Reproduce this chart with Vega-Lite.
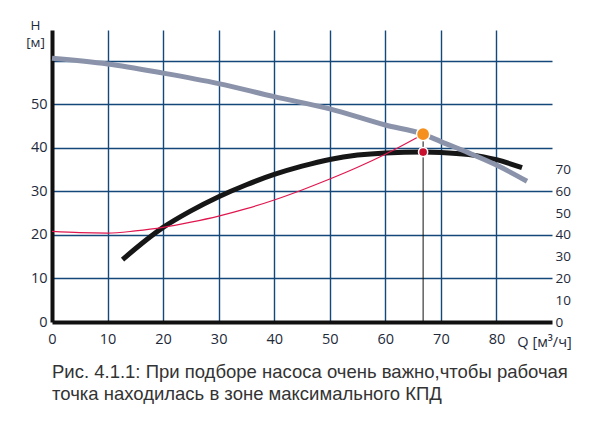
{
  "$schema": "https://vega.github.io/schema/vega-lite/v6.json",
  "width": 500,
  "height": 292,
  "autosize": {"type": "none"},
  "padding": {"left": 52, "top": 30, "right": 39, "bottom": 102},
  "background": "white",
  "title": {
    "text": ["Рис. 4.1.1: При подборе насоса очень важно,чтобы рабочая", "точка находилась в зоне максимального КПД"],
    "orient": "bottom",
    "anchor": "start",
    "frame": "group",
    "offset": 14,
    "font": "Liberation Sans",
    "fontSize": 18.5,
    "fontWeight": "normal",
    "lineHeight": 22,
    "color": "#333333"
  },
  "datasets": {
    "pump": [
      {"q": 0, "h": 60.5}, {"q": 10, "h": 59.2}, {"q": 20, "h": 57.1},
      {"q": 30, "h": 54.7}, {"q": 40, "h": 51.7}, {"q": 50, "h": 48.9},
      {"q": 60, "h": 45.2}, {"q": 66.8, "h": 43.1}, {"q": 70, "h": 41.4},
      {"q": 75, "h": 38.8}, {"q": 80, "h": 36}, {"q": 85.5, "h": 32.3}
    ],
    "system": [
      {"q": 0, "h": 20.8}, {"q": 5, "h": 20.5}, {"q": 10, "h": 20.4},
      {"q": 15, "h": 20.9}, {"q": 20, "h": 21.7}, {"q": 25, "h": 22.9},
      {"q": 30, "h": 24.3}, {"q": 35, "h": 26}, {"q": 40, "h": 28},
      {"q": 45, "h": 30.3}, {"q": 50, "h": 32.8}, {"q": 55, "h": 35.5},
      {"q": 60, "h": 38.5}, {"q": 66.8, "h": 43.1}
    ],
    "kpd": [
      {"q": 12.7, "e": 28.6}, {"q": 15, "e": 33.6}, {"q": 20, "e": 43.4},
      {"q": 25, "e": 51}, {"q": 30, "e": 57.5}, {"q": 35, "e": 63},
      {"q": 40, "e": 67.7}, {"q": 45, "e": 71.5}, {"q": 50, "e": 74.6},
      {"q": 55, "e": 76.6}, {"q": 60, "e": 77.6}, {"q": 66.8, "e": 78},
      {"q": 70, "e": 77.8}, {"q": 75, "e": 76.8}, {"q": 80, "e": 74.5},
      {"q": 84.6, "e": 70.8}
    ],
    "work": [
      {"q": 66.8, "h": 43.1, "h_kpd": 39, "h0": 0}
    ]
  },
  "layer": [
    {
      "data": {"name": "kpd"},
      "mark": {"type": "line", "color": "#161616", "strokeWidth": 5, "interpolate": "monotone"},
      "encoding": {
        "x": {
          "field": "q",
          "type": "quantitative",
          "scale": {"domain": [0, 90], "nice": false},
          "axis": {
            "values": [0, 10, 20, 30, 40, 50, 60, 70, 80, 90],
            "labelExpr": "datum.value == 90 ? 'Q  [м³/ч]' : datum.label",
            "labelOffset": {"condition": {"test": "datum.value == 90", "value": -8}, "value": 0},
            "labelPadding": {"condition": {"test": "datum.value == 90", "value": 13}, "value": 10},
            "labelOverlap": false,
            "labelFlush": false,
            "labelBound": false,
            "title": null,
            "ticks": false,
            "domainColor": "#111111",
            "domainWidth": 4,
            "grid": true,
            "gridColor": "#14477a",
            "gridWidth": 1.4,
            "gridOpacity": {"condition": {"test": "datum.value == 0 || datum.value == 90", "value": 0}, "value": 1},
            "labelFont": "Open Sans",
            "labelFontSize": 14.5,
            "labelFontWeight": 500,
            "labelColor": "#1e2a3a"
          }
        },
        "y": {
          "field": "e",
          "type": "quantitative",
          "scale": {"domain": [0, 134], "nice": false},
          "axis": {
            "orient": "right",
            "values": [0, 10, 20, 30, 40, 50, 60, 70],
            "labelOverlap": false,
            "title": null,
            "domain": false,
            "ticks": false,
            "grid": false,
            "labelFont": "Open Sans",
            "labelFontSize": 13.5,
            "labelFontWeight": 500,
            "labelColor": "#1e2a3a",
            "labelPadding": 3
          }
        }
      }
    },
    {
      "layer": [
        {
          "data": {"name": "system"},
          "mark": {"type": "line", "color": "#e0174f", "strokeWidth": 1.2, "interpolate": "monotone"},
          "encoding": {
            "x": {"field": "q", "type": "quantitative"},
            "y": {
              "field": "h",
              "type": "quantitative",
              "scale": {"domain": [0, 67], "nice": false},
              "axis": {
                "orient": "left",
                "values": [0, 5, 10, 15, 20, 25, 30, 35, 40, 45, 50, 55, 60, 65],
                "labelExpr": "datum.value % 10 == 0 && datum.value <= 50 ? datum.label : ''",
                "labelOverlap": false,
                "title": ["H", "[м]"],
                "titleAngle": 0,
                "titleX": -17,
                "titleY": -1,
                "titleAlign": "center",
                "titleBaseline": "alphabetic",
                "titleFont": "Open Sans",
                "titleFontSize": 13.5,
                "titleFontWeight": 500,
                "titleLineHeight": 17,
                "titleColor": "#1e2a3a",
                "ticks": false,
                "domainColor": "#111111",
                "domainWidth": 4,
                "grid": true,
                "gridColor": "#14477a",
                "gridWidth": 1.4,
                "gridOpacity": {"condition": {"test": "datum.value == 0", "value": 0}, "value": 1},
                "labelFont": "Open Sans",
                "labelFontSize": 14.5,
                "labelFontWeight": 500,
                "labelColor": "#1e2a3a",
                "labelPadding": 5
              }
            }
          }
        },
        {
          "data": {"name": "pump"},
          "mark": {"type": "line", "color": "#8b93aa", "strokeWidth": 5, "interpolate": "monotone"},
          "encoding": {
            "x": {"field": "q", "type": "quantitative"},
            "y": {"field": "h", "type": "quantitative"}
          }
        },
        {
          "data": {"name": "work"},
          "mark": {"type": "rule", "color": "#111111", "strokeWidth": 1},
          "encoding": {
            "x": {"field": "q", "type": "quantitative"},
            "y": {"field": "h", "type": "quantitative"},
            "y2": {"field": "h0"}
          }
        },
        {
          "data": {"name": "work"},
          "mark": {"type": "circle", "color": "#f5901e", "opacity": 1, "size": 175, "stroke": "white", "strokeWidth": 1.5},
          "encoding": {
            "x": {"field": "q", "type": "quantitative"},
            "y": {"field": "h", "type": "quantitative"}
          }
        },
        {
          "data": {"name": "work"},
          "mark": {"type": "circle", "color": "#c8102e", "opacity": 1, "size": 85, "stroke": "white", "strokeWidth": 1.5},
          "encoding": {
            "x": {"field": "q", "type": "quantitative"},
            "y": {"field": "h_kpd", "type": "quantitative"}
          }
        }
      ]
    }
  ],
  "resolve": {"scale": {"y": "independent"}, "axis": {"y": "independent"}},
  "config": {"view": {"stroke": null}}
}
